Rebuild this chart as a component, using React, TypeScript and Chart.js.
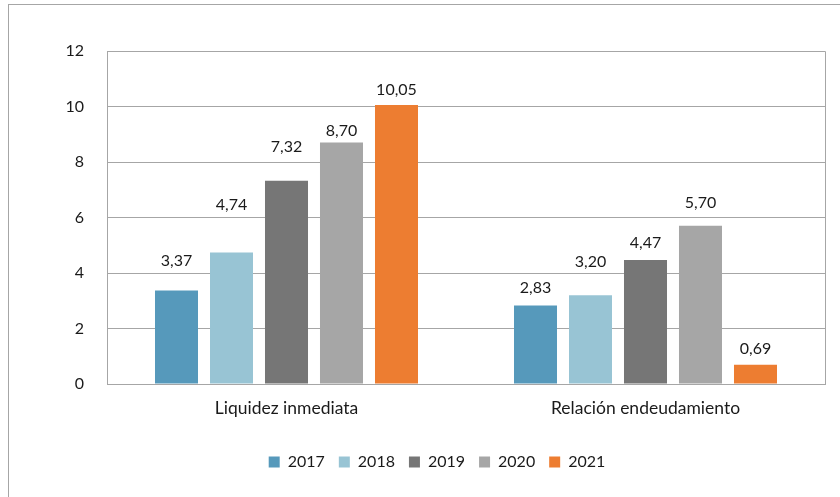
import React, { useEffect, useRef } from "react";
import { Chart, registerables } from "chart.js";

Chart.register(...registerables);

const categories = ["Liquidez inmediata", "Relación endeudamiento"];
const seriesNames = ["2017", "2018", "2019", "2020", "2021"];
const values2017 = [3.37, 2.83];
const values2018 = [4.74, 3.2];
const values2019 = [7.32, 4.47];
const values2020 = [8.7, 5.7];
const values2021 = [10.05, 0.69];
const yTicks = [0, 2, 4, 6, 8, 10, 12];

const seriesColors = ["#5699BB", "#98C4D4", "#767676", "#A6A6A6", "#ED7D31"];
// vertical lift (px) of each value label above its bar top, as placed in the reference
const labelLift = [
  [30, 18],
  [48, 33],
  [34, 17],
  [12, 23],
  [15, 16],
];

const FONT = "Lato, 'Open Sans', sans-serif";

const fmt = (v: number) => v.toFixed(2).replace(".", ",");

const valueLabels = {
  id: "valueLabels",
  afterDatasetsDraw(chart: any) {
    const ctx = chart.ctx;
    ctx.save();
    ctx.font = `16px ${FONT}`;
    ctx.fillStyle = "#1a1a1a";
    ctx.textAlign = "center";
    ctx.textBaseline = "middle";
    chart.data.datasets.forEach((ds: any, di: number) => {
      const meta = chart.getDatasetMeta(di);
      meta.data.forEach((bar: any, i: number) => {
        const lift = labelLift[di][i];
        ctx.fillText(fmt(ds.data[i]), bar.x, bar.y - lift);
      });
    });
    ctx.restore();
  },
};

const plotFrame = {
  id: "plotFrame",
  afterDraw(chart: any) {
    const { left, right, top, bottom } = chart.chartArea;
    const ctx = chart.ctx;
    ctx.save();
    ctx.strokeStyle = "#A6A6A6";
    ctx.lineWidth = 1;
    ctx.beginPath();
    ctx.moveTo(Math.round(left) + 0.5, Math.round(bottom) + 0.5);
    ctx.lineTo(Math.round(left) + 0.5, Math.round(top) + 0.5);
    ctx.lineTo(Math.round(right) + 0.5, Math.round(top) + 0.5);
    ctx.lineTo(Math.round(right) + 0.5, Math.round(bottom) + 0.5);
    ctx.stroke();
    ctx.restore();
  },
};

export default function App() {
  const ref = useRef<HTMLCanvasElement>(null);
  useEffect(() => {
    const allValues = [values2017, values2018, values2019, values2020, values2021];
    const chart = new Chart(ref.current as HTMLCanvasElement, {
      type: "bar",
      data: {
        labels: categories,
        datasets: seriesNames.map((name, i) => ({
          label: name,
          data: allValues[i],
          backgroundColor: seriesColors[i],
          borderWidth: 0,
          categoryPercentage: 0.766,
          barPercentage: 0.782,
        })),
      },
      options: {
        responsive: false,
        animation: false,
        layout: { padding: { left: 49, top: 51, right: 15, bottom: 17 } },
        plugins: {
          legend: {
            position: "bottom",
            labels: {
              boxWidth: 11,
              boxHeight: 11,
              padding: 14,
              color: "#1a1a1a",
              font: { family: FONT, size: 16 },
            },
          },
          tooltip: { enabled: false },
        },
        scales: {
          x: {
            grid: { display: false },
            border: { display: true, color: "#A6A6A6" },
            ticks: {
              color: "#1a1a1a",
              font: { family: FONT, size: 17.5 },
              padding: 6,
            },
            afterFit(scale: any) {
              scale.height = 56;
            },
          },
          y: {
            min: 0,
            max: 12,
            afterBuildTicks(scale: any) {
              scale.ticks = yTicks.map((v) => ({ value: v }));
            },
            grid: { color: "#A6A6A6", drawTicks: false },
            border: { display: false },
            ticks: {
              color: "#1a1a1a",
              font: { family: FONT, size: 16 },
              padding: 23,
            },
            afterFit(scale: any) {
              scale.width = 58;
            },
          },
        },
      },
      plugins: [valueLabels, plotFrame],
    });
    return () => chart.destroy();
  }, []);

  return (
    <div style={{ position: "absolute", left: 0, top: 0, width: 840, height: 497, overflow: "hidden", background: "#fff" }}>
      <div
        style={{
          position: "absolute",
          left: 8,
          top: 4,
          width: 840,
          height: 500,
          border: "1px solid #A6A6A6",
          boxSizing: "border-box",
        }}
      />
      <canvas ref={ref} width={840} height={497} style={{ position: "absolute", left: 0, top: 0, width: 840, height: 497 }} />
    </div>
  );
}
